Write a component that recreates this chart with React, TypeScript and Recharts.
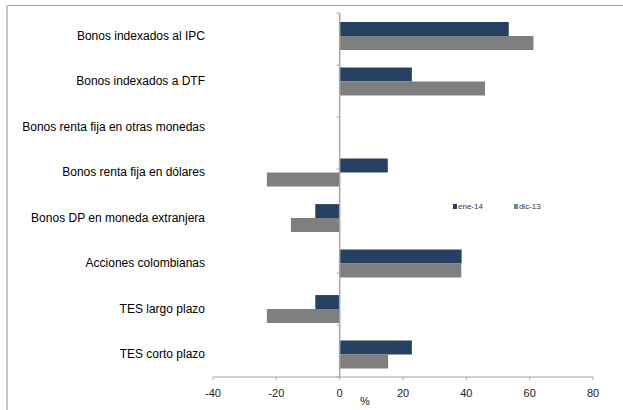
import {
  BarChart,
  Bar,
  XAxis,
  YAxis,
  ReferenceLine,
} from "recharts";

// Categorías (de arriba hacia abajo) y variaciones porcentuales por serie
const categories = [
  "Bonos indexados al IPC",
  "Bonos indexados a DTF",
  "Bonos renta fija en otras monedas",
  "Bonos renta fija en dólares",
  "Bonos DP en moneda extranjera",
  "Acciones colombianas",
  "TES largo plazo",
  "TES corto plazo",
];
const ene14 = [53.4, 22.8, 0, 15.2, -7.7, 38.5, -7.7, 22.8];
const dic13 = [61.2, 45.9, 0, -23.0, -15.4, 38.4, -23.0, 15.3];
const xTicks = [-40, -20, 0, 20, 40, 60, 80];

const BLUE = "#254061";
const GRAY = "#7f7f7f";
const AXIS = "#a6a6a6";

const data = categories.map((name, i) => ({
  name,
  ene14: ene14[i],
  dic13: dic13[i],
}));

// límites entre categorías, para las marcas sobre el eje del cero
const boundaries = categories.map((_, i) => i).concat(categories.length);

// etiqueta de categoría en una sola línea (sin ajuste automático)
const CategoryTick = (props: any) => {
  const { x, y, payload } = props;
  return (
    <text x={x} y={y} dy={4} textAnchor="end" fontSize={12} fill="#000">
      {payload.value}
    </text>
  );
};

const LegendItem = ({ color, text }: { color: string; text: string }) => (
  <div style={{ display: "flex", alignItems: "center", marginRight: 31 }}>
    <div style={{ width: 4, height: 5, background: color, marginRight: 1 }} />
    <span style={{ fontSize: 8, color: "#333" }}>{text}</span>
  </div>
);

export default function App() {
  return (
    <div
      style={{
        position: "fixed",
        left: 0,
        top: 0,
        width: 623,
        height: 410,
        overflow: "hidden",
        background: "#fff",
        fontFamily: "'Liberation Sans', Arial, sans-serif",
      }}
    >
      {/* marco del gráfico: borde superior e izquierdo */}
      <div
        style={{
          position: "absolute",
          left: 6,
          top: 5,
          width: 617,
          height: 1,
          background: "#a8a8a8",
        }}
      />
      <div
        style={{
          position: "absolute",
          left: 6,
          top: 5,
          width: 2,
          height: 405,
          background: "#c4c4c4",
        }}
      />
      <BarChart
        width={623}
        height={410}
        layout="vertical"
        data={data}
        margin={{ top: 13, right: 30, left: 0, bottom: 0 }}
        barCategoryGap="20%"
        barGap={0}
        style={{ position: "absolute", left: 0, top: 0 }}
      >
        <XAxis
          type="number"
          domain={[-40, 80]}
          ticks={xTicks}
          height={33}
          stroke={AXIS}
          tickSize={3}
          tickMargin={9}
          tick={{ fill: "#222", fontSize: 11 }}
          label={{
            value: "%",
            position: "insideBottom",
            offset: 5,
            dx: -38,
            fill: "#222",
            fontSize: 11,
          }}
        />
        <YAxis
          type="category"
          dataKey="name"
          width={213}
          axisLine={false}
          tickLine={false}
          interval={0}
          tick={<CategoryTick />}
        />
        <YAxis
          yAxisId="grid"
          type="number"
          domain={[0, categories.length]}
          hide
        />
        <ReferenceLine x={0} stroke={AXIS} strokeWidth={1.5} />
        {boundaries.map((b) => (
          <ReferenceLine
            key={`tick-${b}`}
            yAxisId="grid"
            segment={[
              { x: -1, y: b },
              { x: 0, y: b },
            ]}
            stroke={AXIS}
          />
        ))}
        <Bar dataKey="ene14" name="ene-14" fill={BLUE} isAnimationActive={false} />
        <Bar dataKey="dic13" name="dic-13" fill={GRAY} isAnimationActive={false} />
      </BarChart>
      <div
        style={{
          position: "absolute",
          left: 453,
          top: 202,
          display: "flex",
          alignItems: "center",
        }}
      >
        <LegendItem color={BLUE} text="ene-14" />
        <LegendItem color={GRAY} text="dic-13" />
      </div>
    </div>
  );
}
